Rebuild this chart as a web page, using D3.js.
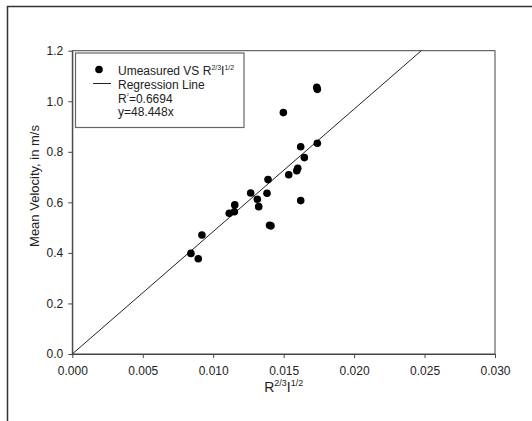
<!DOCTYPE html>
<html>
<head>
<meta charset="utf-8">
<script src="https://cdn.jsdelivr.net/npm/d3@7"></script>
<style>
  body { margin: 0; background: #fff; }
  text { font-family: "Liberation Sans", Arial, sans-serif; fill: #222; }
</style>
</head>
<body>
<script>
// - Scatter with regression line -

// Data
const xValues = [0.01735, 0.01739, 0.01498, 0.01739, 0.01621, 0.01647, 0.01600, 0.01593,
                 0.01536, 0.01389, 0.01266, 0.01382, 0.01313, 0.01323, 0.01153, 0.01150,
                 0.01114, 0.01621, 0.01400, 0.01410, 0.00920, 0.00842, 0.00894];
const yValues = [1.055, 1.047, 0.955, 0.834, 0.820, 0.777, 0.735, 0.725,
                 0.709, 0.690, 0.637, 0.636, 0.612, 0.583, 0.590, 0.563,
                 0.557, 0.607, 0.509, 0.507, 0.471, 0.398, 0.377];
const xTicks = [0, 0.005, 0.010, 0.015, 0.020, 0.025, 0.030];
const yTicks = [0, 0.2, 0.4, 0.6, 0.8, 1.0, 1.2];
const slope = 48.448;
const legendLabels = ["Umeasured VS R", "Regression Line", "R", "y=48.448x"];

// Chart size
const w = 532,
      h = 421,
      mLeft = 72.3,
      mRight = 495,
      mTop = 50.7,
      mBottom = 354;

const svg = d3.select("body")
              .append("svg")
              .attr("width", w)
              .attr("height", h);

// Outer frame
svg.append("path")
   .attr("d", "M7.5,421 L7.5,6.5 L532,6.5")
   .attr("fill", "none")
   .attr("stroke", "#333")
   .attr("stroke-width", 1.5);

// Scales
const x = d3.scaleLinear().domain([0, 0.03]).range([mLeft, mRight]);
const y = d3.scaleLinear().domain([0, 1.2]).range([mBottom, mTop]);

// Plot box
svg.append("rect")
   .attr("x", mLeft)
   .attr("y", mTop)
   .attr("width", mRight - mLeft)
   .attr("height", mBottom - mTop)
   .attr("fill", "none")
   .attr("stroke", "#444")
   .attr("stroke-width", 1);

// Axes
const xAxis = svg.append("g")
   .attr("transform", "translate(0," + mBottom + ")")
   .call(d3.axisBottom(x).tickValues(xTicks).tickFormat(d3.format(".3f"))
           .tickSize(4).tickSizeOuter(0).tickPadding(8));

const yAxis = svg.append("g")
   .attr("transform", "translate(" + mLeft + ",0)")
   .call(d3.axisLeft(y).tickValues(yTicks).tickFormat(d3.format(".1f"))
           .tickSize(4).tickSizeOuter(0).tickPadding(5));

[xAxis, yAxis].forEach(g => {
  g.select(".domain").attr("stroke", "#444");
  g.selectAll(".tick line").attr("stroke", "#444");
  g.selectAll(".tick text")
   .style("font-size", "12px")
   .style("font-family", "'Liberation Sans', Arial, sans-serif")
   .attr("fill", "#222");
});

// Regression line, clipped at the top of the plot
const xEnd = Math.min(0.03, 1.2 / slope);
svg.append("line")
   .attr("x1", x(0))
   .attr("y1", y(0))
   .attr("x2", x(xEnd))
   .attr("y2", y(slope * xEnd))
   .attr("stroke", "#222")
   .attr("stroke-width", 1);

// Points
svg.selectAll("circle.pt")
   .data(xValues)
   .enter()
   .append("circle")
   .attr("class", "pt")
   .attr("cx", d => x(d))
   .attr("cy", (d, i) => y(yValues[i]))
   .attr("r", 3.8)
   .attr("fill", "#000");

// Axis titles
const xTitle = svg.append("text")
   .attr("x", (mLeft + mRight) / 2 - 12)
   .attr("y", 391.5)
   .attr("text-anchor", "start")
   .style("font-size", "14px");
xTitle.append("tspan").text("R");
xTitle.append("tspan").attr("dy", -6).style("font-size", "9px").text("2/3");
xTitle.append("tspan").attr("dy", 6).text("I");
xTitle.append("tspan").attr("dy", -6).style("font-size", "9px").text("1/2");
// re-center
const xb = xTitle.node().getBBox();
xTitle.attr("x", (mLeft + mRight) / 2 - xb.width / 2);

svg.append("text")
   .attr("transform", "translate(39,186) rotate(-90)")
   .attr("text-anchor", "middle")
   .style("font-size", "13px")
   .text("Mean Velocity, in m/s");

// Legend
const legend = svg.append("g");

legend.append("rect")
      .attr("x", 75.5)
      .attr("y", 53)
      .attr("width", 168.5)
      .attr("height", 74.5)
      .attr("fill", "#fff")
      .attr("stroke", "#666")
      .attr("stroke-width", 1.2);

legend.append("circle")
      .attr("cx", 99)
      .attr("cy", 69.5)
      .attr("r", 3.8)
      .attr("fill", "#000");

legend.append("line")
      .attr("x1", 93)
      .attr("x2", 111)
      .attr("y1", 83.5)
      .attr("y2", 83.5)
      .attr("stroke", "#222")
      .attr("stroke-width", 1);

const baselines = [75, 88.5, 102.5, 115.5];

const t0 = legend.append("text").attr("x", 118).attr("y", baselines[0]).style("font-size", "12px");
t0.append("tspan").text(legendLabels[0]);
t0.append("tspan").attr("dy", -5).style("font-size", "7px").text("2/3");
t0.append("tspan").attr("dy", 5).text("I");
t0.append("tspan").attr("dy", -5).style("font-size", "7px").text("1/2");

legend.append("text").attr("x", 118).attr("y", baselines[1])
      .style("font-size", "12px").text(legendLabels[1]);

const t2 = legend.append("text").attr("x", 118).attr("y", baselines[2]).style("font-size", "12px");
t2.append("tspan").text(legendLabels[2]);
t2.append("tspan").attr("dy", -7).style("font-size", "4px").text("2");
t2.append("tspan").attr("dy", 7).text("=0.6694");

legend.append("text").attr("x", 118).attr("y", baselines[3])
      .style("font-size", "12px").text(legendLabels[3]);
</script>
</body>
</html>
